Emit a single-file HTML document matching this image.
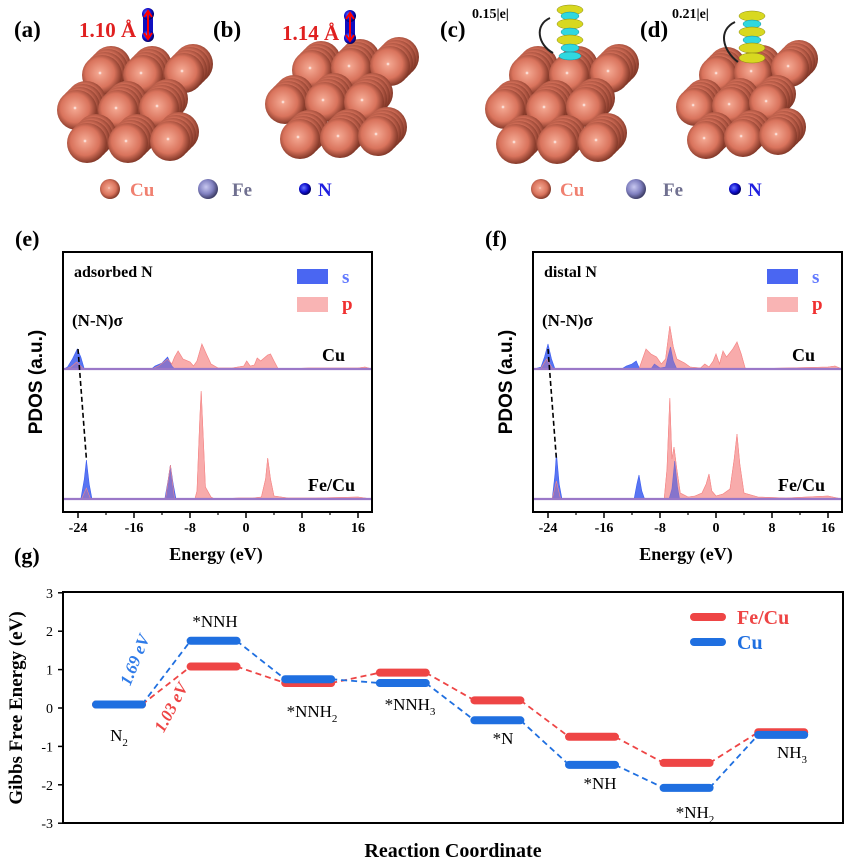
<!DOCTYPE html>
<html><head><meta charset="utf-8"><style>
html,body{margin:0;padding:0;background:#fff}
svg{display:block;font-family:"Liberation Serif",serif}
</style></head><body>
<svg id="fig" width="846" height="861" viewBox="0 0 846 861" xmlns="http://www.w3.org/2000/svg">
<defs>
<radialGradient id="cu" cx="0.45" cy="0.45" r="0.6"><stop offset="0" stop-color="#fff"/><stop offset="0.08" stop-color="#f2a48e"/><stop offset="0.6" stop-color="#d9735c"/><stop offset="1" stop-color="#6e2a1c"/></radialGradient>
<radialGradient id="fe" cx="0.4" cy="0.4" r="0.6"><stop offset="0" stop-color="#c8c8f0"/><stop offset="0.6" stop-color="#8080c0"/><stop offset="1" stop-color="#40406a"/></radialGradient>
<radialGradient id="nn" cx="0.4" cy="0.4" r="0.6"><stop offset="0" stop-color="#6a7aff"/><stop offset="0.6" stop-color="#1010d0"/><stop offset="1" stop-color="#000060"/></radialGradient>
</defs>
<g id="top"></g>
<g id="pe"></g>
<g id="pf"></g>
<g id="pg"></g>
</svg>
<script>
const NS="http://www.w3.org/2000/svg";
function mk(p,t,a,txt){const e=document.createElementNS(NS,t);for(const k in a)e.setAttribute(k,a[k]);if(txt!==undefined)e.textContent=txt;p.appendChild(e);return e;}

/* ---------- PDOS data: [energy eV, value a.u.] ---------- */
const eCuS=[[-26,0],[-25.5,2],[-24.8,10],[-24.1,20],[-23.6,12],[-23.1,0],[-13.5,0],[-13,3],[-12,6],[-11.2,12],[-10.6,3],[-10.2,0],[18,0]];
const eCuP=[[-26,0],[-25,2],[-24.2,7],[-23.2,0],[-13.5,0],[-12.5,3],[-11.2,10],[-10.6,5],[-10.2,12],[-9.7,18],[-9,10],[-8,7],[-7.5,3],[-7,8],[-6.3,25],[-5.6,14],[-5,5],[-4,1],[-2,1],[-0.3,3],[0.1,8],[0.6,3],[1.2,4],[1.6,11],[2.1,8],[3.1,14],[3.5,15],[4,8],[4.6,0],[9,1],[12,1],[16,1],[17,2],[18,0]];
const eFeS=[[-26,0],[-23.6,0],[-23.1,20],[-22.8,39],[-22.4,15],[-22,0],[-11.6,0],[-11.1,20],[-10.8,34],[-10.4,15],[-10,0],[18,0]];
const eFeP=[[-26,0],[-23.5,0],[-22.8,11],[-22.2,0],[-11.5,0],[-10.8,34],[-10.2,0],[-7.3,0],[-7,8],[-6.6,80],[-6.4,108],[-6.1,60],[-5.8,12],[-5,2],[-4.5,0],[-1,1],[1,1],[2.2,2],[2.8,20],[3.1,41],[3.5,20],[4,3],[6,1],[10,1],[16,2],[18,0]];
const fCuS=[[-26,0],[-25,2],[-24.5,12],[-24,25],[-23.5,10],[-23,0],[-13.5,0],[-12.8,3],[-12,5],[-11.4,8],[-10.9,0],[-9.3,0],[-8.8,5],[-8,1],[-7.2,2],[-6.8,14],[-6.5,22],[-6.1,8],[-5.6,0],[18,0]];
const fCuP=[[-26,0],[-25,1],[-24.2,10],[-23.3,0],[-11,0],[-10.5,10],[-10,20],[-9.3,15],[-8.5,12],[-7.8,5],[-7.2,10],[-6.6,43],[-6.1,22],[-5.6,10],[-4.5,6],[-3.7,2],[-2.2,1],[-1.6,5],[-1,2],[-0.4,8],[0,15],[0.5,5],[1,18],[1.5,12],[2.4,20],[3,27],[3.6,15],[4.2,0],[10,1],[16,2],[17,3],[18,0]];
const fFeS=[[-26,0],[-23.4,0],[-23,25],[-22.8,46],[-22.4,15],[-22,0],[-11.7,0],[-11.3,15],[-11,24],[-10.6,8],[-10.2,0],[-6.7,0],[-6.3,10],[-5.9,38],[-5.5,12],[-5.2,0],[18,0]];
const fFeP=[[-26,0],[-23.4,0],[-22.8,18],[-22.2,0],[-7.4,0],[-7,30],[-6.6,101],[-6.3,40],[-6,52],[-5.6,30],[-5.1,6],[-4,2],[-3,3],[-2,6],[-1.4,15],[-1,25],[-0.6,8],[0,3],[1,5],[2,10],[2.6,40],[3,65],[3.4,35],[4,6],[6,2],[10,1],[16,3],[18,0]];
const pdosTicks=[-24,-16,-8,0,8,16];

function pdos(g,ox,tag,title,cuS,cuP,feS,feP){
  const L=ox+63,R=ox+372,T=252,B=512;
  const x0=ox+78, k=7.0;
  const X=e=>x0+(e+24)*k;
  const cuB=369, feB=499;
  function area(d,base,fill,op,nm){
    let s=`M${X(d[0][0])},${base}`;
    d.forEach(p=>s+=` L${X(p[0]).toFixed(1)},${(base-p[1]).toFixed(1)}`);
    s+=` L${X(d[d.length-1][0])},${base} Z`;
    const p=mk(g,'path',{d:s,fill:fill,'fill-opacity':op,stroke:fill,'stroke-width':0.6});
    
    
  }
  area(cuP,cuB,'#f58a8a',0.6,'cu-p-area');area(cuS,cuB,'#3b5cf0',0.85,'cu-s-area');
  area(feP,feB,'#f58a8a',0.6,'fecu-p-area');area(feS,feB,'#3b5cf0',0.85,'fecu-s-area');
  area(cuP,cuB,'#f58a8a',0.3,'cu-p-overlay');area(feP,feB,'#f58a8a',0.3,'fecu-p-overlay');
  mk(g,'line',{x1:L,x2:R,y1:cuB,y2:cuB,stroke:'#9a78c8','stroke-width':2.2});
  mk(g,'line',{x1:L,x2:R,y1:feB,y2:feB,stroke:'#9a78c8','stroke-width':2.2});
  mk(g,'line',{x1:X(-24),y1:cuB-20,x2:X(-22.8),y2:feB-40,stroke:'#000','stroke-width':1.6,'stroke-dasharray':'5,3'});
  mk(g,'rect',{x:L,y:T,width:R-L,height:B-T,fill:'none',stroke:'#000','stroke-width':2,});
  pdosTicks.forEach(v=>{
    mk(g,'line',{x1:X(v),x2:X(v),y1:B,y2:B+6,stroke:'#000','stroke-width':1.5});
    if(X(v+4)<R) mk(g,'line',{x1:X(v+4),x2:X(v+4),y1:B,y2:B+3,stroke:'#000','stroke-width':1.2});
    const t=mk(g,'text',{x:X(v),y:B+20,'text-anchor':'middle','font-size':14,'font-weight':'bold'},v);
    
  });
  mk(g,'text',{x:ox+15,y:246,'font-size':22,'font-weight':'bold',},tag);
  mk(g,'text',{x:ox+216,y:560,'text-anchor':'middle','font-size':18,'font-weight':'bold',},'Energy (eV)');
  mk(g,'text',{transform:`translate(${ox+42},382) rotate(-90)`,'text-anchor':'middle','font-size':19,'font-weight':'bold','font-family':'Liberation Sans, sans-serif',},'PDOS (a.u.)');
  mk(g,'text',{x:ox+74,y:277,'font-size':16,'font-weight':'bold',},title);
  mk(g,'text',{x:ox+72,y:326,'font-size':17,'font-weight':'bold',},'(N-N)σ');
  mk(g,'text',{x:ox+345,y:361,'text-anchor':'end','font-size':18,'font-weight':'bold',},'Cu');
  mk(g,'text',{x:ox+355,y:491,'text-anchor':'end','font-size':18,'font-weight':'bold',},'Fe/Cu');
  const lx=ox+297;
  mk(g,'rect',{x:lx,y:269,width:31,height:15,fill:'#4a66f2',});
  mk(g,'rect',{x:lx,y:297,width:31,height:15,fill:'#f9b4b4',});
  mk(g,'text',{x:lx+45,y:283,'font-size':19,'font-weight':'bold',fill:'#6078ff',},'s');
  mk(g,'text',{x:lx+45,y:310,'font-size':19,'font-weight':'bold',fill:'#f03030',},'p');
}
pdos(document.getElementById('pe'),0,'(e)','adsorbed N',eCuS,eCuP,eFeS,eFeP);
pdos(document.getElementById('pf'),470,'(f)','distal N',fCuS,fCuP,fFeS,fFeP);

/* ---------- Gibbs data ---------- */
const steps=['N2','*NNH','*NNH2','*NNH3','*N','*NH','*NH2','NH3'];
const feCu=[0.09,1.08,0.65,0.92,0.20,-0.75,-1.43,-0.63];
const cu=[0.09,1.75,0.75,0.65,-0.32,-1.48,-2.08,-0.70];
const yTicks=[3,2,1,0,-1,-2,-3];
(function(){
  const g=document.getElementById('pg');
  const L=63,R=843,T=592,B=823;
  const Y=v=>708-v*38.4;
  const XC=i=>119+i*94.6;
  const hw=23;
  mk(g,'rect',{x:L,y:T,width:R-L,height:B-T,fill:'none',stroke:'#000','stroke-width':2,});
  yTicks.forEach(v=>{
    mk(g,'line',{x1:L-5,x2:L,y1:Y(v),y2:Y(v),stroke:'#000','stroke-width':1.5});
    const t=mk(g,'text',{x:L-10,y:Y(v)+5,'text-anchor':'end','font-size':14},v);
    
  });
  function series(vals,col,nm){
    for(let i=0;i<vals.length-1;i++){
      const l=mk(g,'line',{x1:XC(i)+hw,y1:Y(vals[i]),x2:XC(i+1)-hw,y2:Y(vals[i+1]),stroke:col,'stroke-width':1.8,'stroke-dasharray':'6,4'});
      
    }
    vals.forEach((v,i)=>{
      const r=mk(g,'line',{x1:XC(i)-hw,x2:XC(i)+hw,y1:Y(v),y2:Y(v),stroke:col,'stroke-width':8,'stroke-linecap':'round'});
      
    });
  }
  series(feCu,'#ee4545','fecu');
  series(cu,'#1f6fe0','cu');
  const lblPos=[[119,741],[215,627],[312,717],[410,710],[503,744],[600,789],[695,818],[792,758]];
  const lblTxt=[['N','2'],['*NNH',''],['*NNH','2'],['*NNH','3'],['*N',''],['*NH',''],['*NH','2'],['NH','3']];
  lblTxt.forEach((t,i)=>{
    const e=mk(g,'text',{x:lblPos[i][0],y:lblPos[i][1],'text-anchor':'middle','font-size':17});
    
    mk(e,'tspan',{},t[0]);if(t[1])mk(e,'tspan',{dy:5,'font-size':11},t[1]);
  });
  mk(g,'text',{transform:'translate(140,662) rotate(-68)','text-anchor':'middle','font-size':17,'font-weight':'bold','font-style':'italic',fill:'#2f7be8',},'1.69 eV');
  mk(g,'text',{transform:'translate(176,710) rotate(-62)','text-anchor':'middle','font-size':17,'font-weight':'bold','font-style':'italic',fill:'#ee4545',},'1.03 eV');
  mk(g,'line',{x1:694,x2:722,y1:617,y2:617,stroke:'#ee4545','stroke-width':8,'stroke-linecap':'round',});
  mk(g,'line',{x1:694,x2:722,y1:642,y2:642,stroke:'#1f6fe0','stroke-width':8,'stroke-linecap':'round',});
  mk(g,'text',{x:737,y:624,'font-size':20,'font-weight':'bold',fill:'#ee4545',},'Fe/Cu');
  mk(g,'text',{x:737,y:649,'font-size':20,'font-weight':'bold',fill:'#1f6fe0',},'Cu');
  mk(g,'text',{transform:'translate(22,708) rotate(-90)','text-anchor':'middle','font-size':19,'font-weight':'bold',},'Gibbs Free Energy (eV)');
  mk(g,'text',{x:453,y:857,'text-anchor':'middle','font-size':20,'font-weight':'bold',},'Reaction Coordinate');
  mk(g,'text',{x:14,y:563,'font-size':22,'font-weight':'bold',},'(g)');
})();

/* ---------- structures ---------- */
(function(){
  const g=document.getElementById('top');
  function sph(x,y,r){
    for(let k=3;k>=1;k--) mk(g,'circle',{cx:x+k*3,cy:y-k*3,r:r,fill:'url(#cu)'});
    const c=mk(g,'circle',{cx:x,cy:y,r:r,fill:'url(#cu)'});
    
  }
  const slabs=[
    {r:20,p:[[102,75],[143,75],[184,73],[77,110],[118,110],[159,108],[87,143],[128,143],[170,141]]},
    {r:20,p:[[312,70],[351,68],[390,66],[285,104],[325,102],[364,102],[300,139],[340,138],[378,136]]},
    {r:20,p:[[529,75],[569,75],[610,73],[505,109],[546,109],[586,107],[516,144],[557,144],[598,142]]},
    {r:19,p:[[718,75],[753,73],[790,68],[695,107],[731,106],[768,103],[706,140],[743,138],[778,136]]}
  ];
  slabs.forEach(s=>{ for(let i=0;i<=6;i+=3) for(let j=0;j<3;j++){const q=s.p[i+j];sph(q[0],q[1],s.r);} });
  [['(a)',14],['(b)',213],['(c)',440],['(d)',640]].forEach(l=>mk(g,'text',{x:l[1],y:37,'font-size':23,'font-weight':'bold',},l[0]));
  mk(g,'text',{x:79,y:37,'font-size':21,'font-weight':'bold',fill:'#e02020',},'1.10 Å');
  mk(g,'text',{x:282,y:40,'font-size':21,'font-weight':'bold',fill:'#e02020',},'1.14 Å');
  [[148,14,36],[350,16,38]].forEach(m=>{
    mk(g,'rect',{x:m[0]-5,y:m[1],width:10,height:m[2]-m[1],fill:'#1010c0'});
    mk(g,'circle',{cx:m[0],cy:m[1],r:6,fill:'url(#nn)'});mk(g,'circle',{cx:m[0],cy:m[2],r:6,fill:'url(#nn)'});
    mk(g,'line',{x1:m[0],x2:m[0],y1:m[1]-2,y2:m[2]+2,stroke:'#f00','stroke-width':2});
    mk(g,'path',{d:`M${m[0]-4},${m[1]+3} L${m[0]},${m[1]-3} L${m[0]+4},${m[1]+3} M${m[0]-4},${m[2]-3} L${m[0]},${m[2]+3} L${m[0]+4},${m[2]-3}`,stroke:'#f00','stroke-width':2,fill:'none'});
  });
  mk(g,'text',{x:472,y:18,'font-size':14,'font-weight':'bold',},'0.15|e|');
  mk(g,'text',{x:672,y:18,'font-size':14,'font-weight':'bold',},'0.21|e|');
  mk(g,'path',{d:'M553,53 C538,45 534,25 550,18',stroke:'#222','stroke-width':2,fill:'none'});
  mk(g,'path',{d:'M738,62 C722,50 718,30 735,22',stroke:'#222','stroke-width':2,fill:'none'});
  const iso=[[570,[10,16,24,32,40,48,56],[0,1,0,1,0,1,2]],[752,[16,24,32,40,48,58],[0,1,0,1,0,0]]];
  iso.forEach(s=>{s[1].forEach((y,i)=>{const c=s[2][i];
    mk(g,'ellipse',{cx:s[0],cy:y,rx:c===0?13:(c===1?9:11),ry:c===0?5:4,fill:c===0?'#d8d820':'#30d8e0',stroke:c===0?'#8a8a10':'#1890a0','stroke-width':0.5});});});
  [[110,130,208,232,305,318],[541,560,636,663,735,748]].forEach(a=>{
    mk(g,'circle',{cx:a[0],cy:189,r:10,fill:'url(#cu)'});
    mk(g,'text',{x:a[1],y:196,'font-size':19,'font-weight':'bold',fill:'#f08070',},'Cu');
    mk(g,'circle',{cx:a[2],cy:189,r:10,fill:'url(#fe)'});
    mk(g,'text',{x:a[3],y:196,'font-size':19,'font-weight':'bold',fill:'#707090',},'Fe');
    mk(g,'circle',{cx:a[4],cy:189,r:6,fill:'url(#nn)'});
    mk(g,'text',{x:a[5],y:196,'font-size':19,'font-weight':'bold',fill:'#2020e0',},'N');
  });
})();
</script>
</body></html>
